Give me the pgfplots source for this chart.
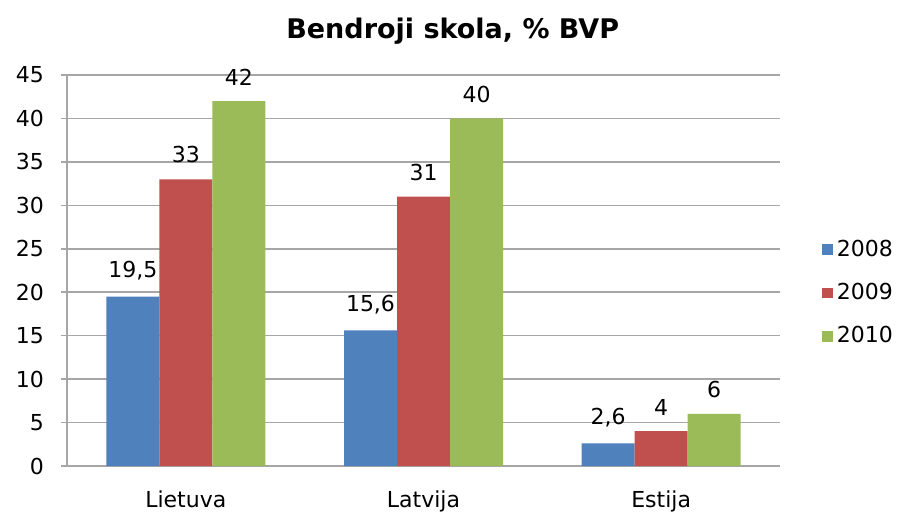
\documentclass[border=0pt]{standalone}
\usepackage{fontspec}
\setmainfont{DejaVu Sans}
\usepackage{pgfplots}
\pgfplotsset{compat=1.18}
\definecolor{c2008}{HTML}{4F81BD}
\definecolor{c2009}{HTML}{C0504D}
\definecolor{c2010}{HTML}{9BBB59}
\definecolor{gridc}{HTML}{A6A6A6}
\begin{document}
\begin{tikzpicture}
\begin{axis}[
  at={(0,0)}, anchor=south west,
  scale only axis, width=356.5pt, height=195.5pt,
  ybar=0pt, bar width=26.5pt,
  xmin=-0.5, xmax=2.5, ymin=0, ymax=45,
  xtick={0,1,2}, xticklabels={Lietuva,Latvija,Estija},
  ytick={0,5,...,45},
  x tick style={draw=none},
  extra x ticks={-0.5,0.5,1.5,2.5}, extra x tick labels={},
  extra x tick style={grid=none, tick align=outside, major tick length=3pt, tick style={draw=gridc, line width=0.8pt}},
  y tick style={draw=gridc, line width=0.8pt},
  tick align=outside, major tick length=3pt,
  axis x line*=bottom, axis y line*=left,
  axis line style={draw=gridc, line width=0.8pt},
  ymajorgrids, major grid style={draw=gridc, line width=0.8pt},
  font=\fontsize{11}{13}\selectfont,
  tick label style={font=\fontsize{11}{13}\selectfont},
  /pgf/number format/assume math mode=true,
  /pgf/number format/use comma,
  xticklabel style={yshift=-6pt},
  yticklabel style={xshift=-5pt},
  title={\bfseries Bendroji skola, \% BVP},
  title style={at={(rel axis cs:0.541,1.082)}, anchor=center, font=\fontsize{13.5}{15}\selectfont},
  nodes near coords,
  every node near coord/.append style={yshift=4.5pt, font=\fontsize{11}{13}\selectfont, text=black},
  legend style={at={(rel axis cs:1.059,0.4425)}, anchor=west, draw=none, fill=none,
    font=\fontsize{11}{13}\selectfont, row sep=8pt, inner sep=0pt},
  legend cell align=left,
  legend image code/.code={\fill[#1,draw=none] (0pt,-2.6pt) rectangle (5.2pt,2.6pt);},
]
\addplot[fill=c2008, draw=none] coordinates {(0,19.5) (1,15.6) (2,2.6)};
\addplot[fill=c2009, draw=none] coordinates {(0,33) (1,31) (2,4)};
\addplot[fill=c2010, draw=none] coordinates {(0,42) (1,40) (2,6)};
\legend{2008,2009,2010}
\end{axis}
\path (-33.5pt,-24pt) rectangle (415pt,233pt);
\end{tikzpicture}
\end{document}
